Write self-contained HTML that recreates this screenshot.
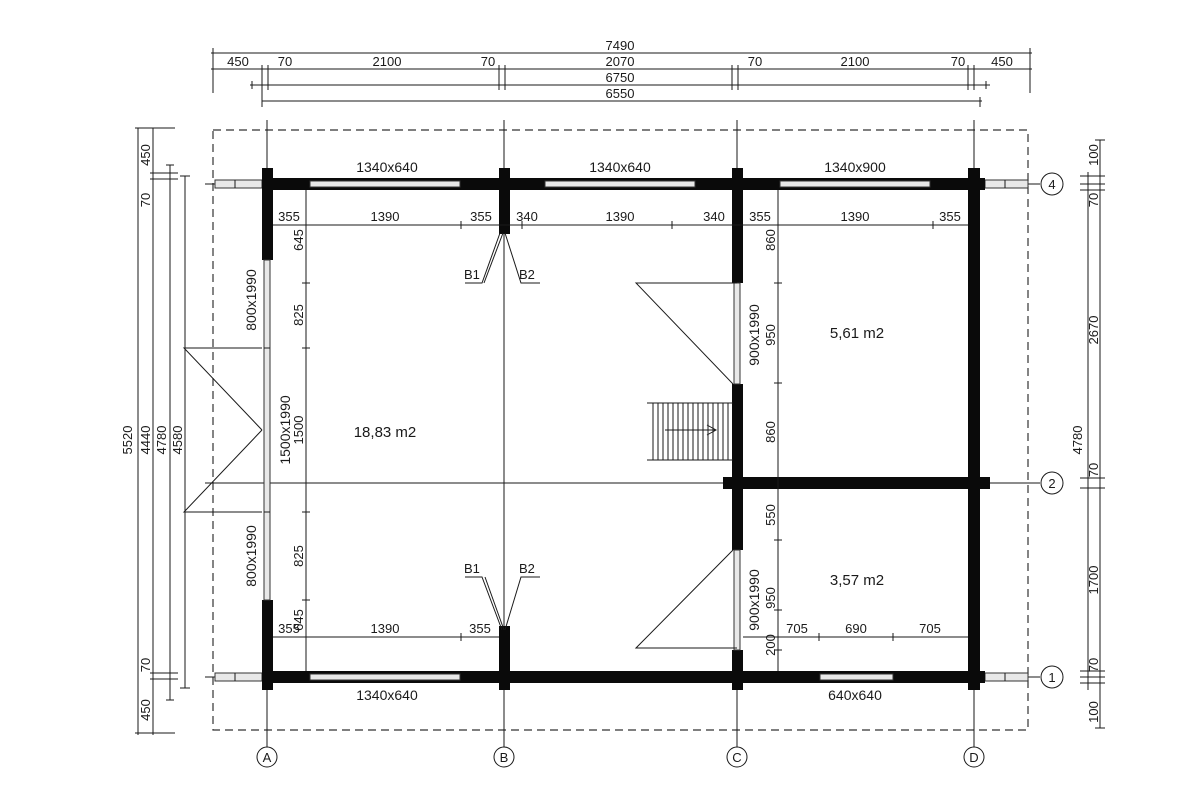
<!DOCTYPE html>
<html><head><meta charset="utf-8"><style>
html,body{margin:0;padding:0;background:#fff;}
svg{display:block;}
text{font-family:"Liberation Sans",sans-serif;font-size:13px;fill:#1a1a1a;}
.t{stroke:#1a1a1a;stroke-width:1;fill:none;}
.w{fill:#0a0a0a;}
.g{fill:#e8e8e8;stroke:#333;stroke-width:1;}
</style></head><body>
<svg width="1200" height="800" viewBox="0 0 1200 800">
<!-- dashed outline -->
<rect x="213" y="130" width="815" height="600" fill="none" stroke="#333" stroke-width="1.2" stroke-dasharray="8,5"/>

<!-- grid lines -->
<g class="t">
<line x1="267" y1="120" x2="267" y2="747"/>
<line x1="504" y1="120" x2="504" y2="747"/>
<line x1="737" y1="120" x2="737" y2="747"/>
<line x1="974" y1="120" x2="974" y2="747"/>
<line x1="205" y1="184" x2="1040" y2="184"/>
<line x1="205" y1="483" x2="1040" y2="483"/>
<line x1="205" y1="677" x2="1040" y2="677"/>
</g>

<!-- log-end extensions -->
<g class="g">
<rect x="215" y="180" width="47" height="8"/><rect x="985" y="180" width="43" height="8"/>
<rect x="215" y="673" width="47" height="8"/><rect x="985" y="673" width="43" height="8"/>
</g>
<g class="t"><line x1="235" y1="180" x2="235" y2="188"/><line x1="1005" y1="180" x2="1005" y2="188"/><line x1="235" y1="673" x2="235" y2="681"/><line x1="1005" y1="673" x2="1005" y2="681"/></g>

<!-- walls -->
<g class="w">
<rect x="262" y="178" width="723" height="12"/>
<rect x="262" y="671" width="723" height="12"/>
<rect x="723" y="477" width="267" height="12"/>
<rect x="262" y="168" width="11" height="92"/>
<rect x="262" y="600" width="11" height="90"/>
<rect x="499" y="168" width="11" height="66"/>
<rect x="499" y="626" width="11" height="64"/>
<rect x="732" y="168" width="11" height="115"/>
<rect x="732" y="384" width="11" height="166"/>
<rect x="732" y="650" width="11" height="40"/>
<rect x="968" y="168" width="12" height="522"/>
</g>
<!-- windows / doors (glass) -->
<g class="g">
<rect x="310" y="181" width="150" height="6"/>
<rect x="545" y="181" width="150" height="6"/>
<rect x="780" y="181" width="150" height="6"/>
<rect x="310" y="674" width="150" height="6"/>
<rect x="820" y="674" width="73" height="6"/>
<rect x="264" y="260" width="6" height="340"/>
<rect x="734" y="283" width="6" height="101"/>
<rect x="734" y="550" width="6" height="100"/>
</g>
<g class="t"><line x1="264" y1="348" x2="270" y2="348"/><line x1="264" y1="512" x2="270" y2="512"/></g>

<!-- door swings -->
<g class="t">
<polyline points="262,348 184,348 262,430"/>
<polyline points="262,512 184,512 262,430"/>
<polyline points="737,283 636,283 733,384"/>
<polyline points="737,648 636,648 733,550"/>
</g>

<!-- stairs -->
<g class="t">
<line x1="647" y1="403" x2="733" y2="403"/>
<line x1="647" y1="460" x2="733" y2="460"/>
<line x1="653" y1="403" x2="653" y2="460"/>
<line x1="658" y1="403" x2="658" y2="460"/><line x1="663" y1="403" x2="663" y2="460"/><line x1="668" y1="403" x2="668" y2="460"/><line x1="673" y1="403" x2="673" y2="460"/><line x1="678" y1="403" x2="678" y2="460"/><line x1="683" y1="403" x2="683" y2="460"/><line x1="688" y1="403" x2="688" y2="460"/><line x1="693" y1="403" x2="693" y2="460"/><line x1="698" y1="403" x2="698" y2="460"/><line x1="703" y1="403" x2="703" y2="460"/><line x1="708" y1="403" x2="708" y2="460"/><line x1="713" y1="403" x2="713" y2="460"/><line x1="718" y1="403" x2="718" y2="460"/><line x1="723" y1="403" x2="723" y2="460"/><line x1="728" y1="403" x2="728" y2="460"/>
<line x1="665" y1="430" x2="715" y2="430"/>
<polyline points="707,425 716,430 707,435"/>
</g>

<!-- interior dimension lines -->
<g class="t">
<line x1="273" y1="225" x2="968" y2="225"/>
<line x1="306" y1="190" x2="306" y2="671"/>
<line x1="273" y1="637" x2="499" y2="637"/>
<line x1="778" y1="190" x2="778" y2="671"/>
<line x1="743" y1="637" x2="968" y2="637"/>
<path d="M306 221v8M461 221v8M522 221v8M672 221v8M778 221v8M933 221v8M302 283h8M302 348h8M302 512h8M302 600h8M302 637h8M461 633v8M774 283h8M774 383h8M774 540h8M774 610h8M774 650h8M778 633v8M819 633v8M893 633v8"/>
</g>

<!-- B1 B2 -->
<g class="t">
<polyline points="465,283 482,283 500,233"/><line x1="484" y1="283" x2="503" y2="233"/>
<polyline points="540,283 521,283 505,233"/>
<polyline points="465,577 482,577 502,630"/><line x1="485" y1="577" x2="504" y2="630"/>
<polyline points="540,577 521,577 505,630"/>
</g>
<text x="464" y="279">B1</text><text x="519" y="279">B2</text>
<text x="464" y="573">B1</text><text x="519" y="573">B2</text>

<!-- top dims -->
<g class="t">
<line x1="211" y1="53" x2="1032" y2="53"/>
<line x1="211" y1="69" x2="1032" y2="69"/>
<line x1="250" y1="85" x2="990" y2="85"/>
<line x1="262" y1="101" x2="982" y2="101"/>
<path d="M213 48v45M1030 48v45M262 65v35M268 65v25M499 65v25M505 65v25M732 65v25M738 65v25M968 65v25M974 65v25M262 97v10M980 97v10M252 81v8M986 81v8"/>
</g>
<g text-anchor="middle">
<text x="620" y="50">7490</text>
<text x="238" y="66">450</text><text x="285" y="66">70</text><text x="387" y="66">2100</text><text x="488" y="66">70</text>
<text x="620" y="66">2070</text><text x="755" y="66">70</text><text x="855" y="66">2100</text><text x="958" y="66">70</text><text x="1002" y="66">450</text>
<text x="620" y="82">6750</text><text x="620" y="98">6550</text>
</g>

<!-- left dims -->
<g class="t">
<line x1="138" y1="128" x2="138" y2="735"/>
<line x1="153" y1="128" x2="153" y2="735"/>
<line x1="170" y1="165" x2="170" y2="700"/>
<line x1="185" y1="176" x2="185" y2="688"/>
<path d="M135 128h40M135 733h40M150 173h28M150 179h28M150 673h28M150 679h28M180 176h10M180 688h10M166 165h8M166 700h8"/>
</g>
<g text-anchor="middle">
<text transform="translate(150,155) rotate(-90)">450</text>
<text transform="translate(150,200) rotate(-90)">70</text>
<text transform="translate(150,665) rotate(-90)">70</text>
<text transform="translate(150,710) rotate(-90)">450</text>
<text transform="translate(132,440) rotate(-90)">5520</text>
<text transform="translate(150,440) rotate(-90)">4440</text>
<text transform="translate(166,440) rotate(-90)">4780</text>
<text transform="translate(182,440) rotate(-90)">4580</text>
</g>

<!-- right dims -->
<g class="t">
<line x1="1088" y1="172" x2="1088" y2="690"/>
<line x1="1100" y1="140" x2="1100" y2="728"/>
<path d="M1080 176h25M1080 184h25M1080 190h25M1080 478h25M1080 488h25M1080 671h25M1080 677h25M1080 683h25M1095 140h10M1095 728h10"/>
</g>
<g text-anchor="middle">
<text transform="translate(1098,155) rotate(-90)">100</text>
<text transform="translate(1098,200) rotate(-90)">70</text>
<text transform="translate(1098,330) rotate(-90)">2670</text>
<text transform="translate(1082,440) rotate(-90)">4780</text>
<text transform="translate(1098,470) rotate(-90)">70</text>
<text transform="translate(1098,580) rotate(-90)">1700</text>
<text transform="translate(1098,665) rotate(-90)">70</text>
<text transform="translate(1098,712) rotate(-90)">100</text>
</g>

<!-- axis circles -->
<g class="t">
<circle cx="1052" cy="184" r="11" fill="#fff"/><circle cx="1052" cy="483" r="11" fill="#fff"/><circle cx="1052" cy="677" r="11" fill="#fff"/>
<circle cx="267" cy="757" r="10" fill="#fff"/><circle cx="504" cy="757" r="10" fill="#fff"/><circle cx="737" cy="757" r="10" fill="#fff"/><circle cx="974" cy="757" r="10" fill="#fff"/>
</g>
<g text-anchor="middle">
<text x="1052" y="189">4</text><text x="1052" y="488">2</text><text x="1052" y="682">1</text>
<text x="267" y="762">A</text><text x="504" y="762">B</text><text x="737" y="762">C</text><text x="974" y="762">D</text>
</g>

<!-- window labels -->
<g text-anchor="middle">
<text x="387" y="172" style="font-size:14px">1340x640</text>
<text x="620" y="172" style="font-size:14px">1340x640</text>
<text x="855" y="172" style="font-size:14px">1340x900</text>
<text x="387" y="700" style="font-size:14px">1340x640</text>
<text x="855" y="700" style="font-size:14px">640x640</text>
<text transform="translate(256,300) rotate(-90)" style="font-size:14px">800x1990</text>
<text transform="translate(256,556) rotate(-90)" style="font-size:14px">800x1990</text>
<text transform="translate(290,430) rotate(-90)" style="font-size:14px">1500x1990</text>
<text transform="translate(759,335) rotate(-90)" style="font-size:14px">900x1990</text>
<text transform="translate(759,600) rotate(-90)" style="font-size:14px">900x1990</text>
</g>

<!-- interior dim labels -->
<g text-anchor="middle">
<text x="289" y="221">355</text><text x="385" y="221">1390</text><text x="481" y="221">355</text><text x="527" y="221">340</text>
<text x="620" y="221">1390</text><text x="714" y="221">340</text><text x="760" y="221">355</text><text x="855" y="221">1390</text><text x="950" y="221">355</text>
<text x="289" y="633">355</text><text x="385" y="633">1390</text><text x="480" y="633">355</text>
<text x="797" y="633">705</text><text x="856" y="633">690</text><text x="930" y="633">705</text>
<text transform="translate(303,240) rotate(-90)">645</text>
<text transform="translate(303,315) rotate(-90)">825</text>
<text transform="translate(303,430) rotate(-90)">1500</text>
<text transform="translate(303,556) rotate(-90)">825</text>
<text transform="translate(303,620) rotate(-90)">645</text>
<text transform="translate(775,240) rotate(-90)">860</text>
<text transform="translate(775,335) rotate(-90)">950</text>
<text transform="translate(775,432) rotate(-90)">860</text>
<text transform="translate(775,515) rotate(-90)">550</text>
<text transform="translate(775,598) rotate(-90)">950</text>
<text transform="translate(775,645) rotate(-90)">200</text>
</g>

<!-- room areas -->
<g text-anchor="middle">
<text x="385" y="437" style="font-size:15px">18,83 m2</text>
<text x="857" y="338" style="font-size:15px">5,61 m2</text>
<text x="857" y="585" style="font-size:15px">3,57 m2</text>
</g>
</svg>
</body></html>
